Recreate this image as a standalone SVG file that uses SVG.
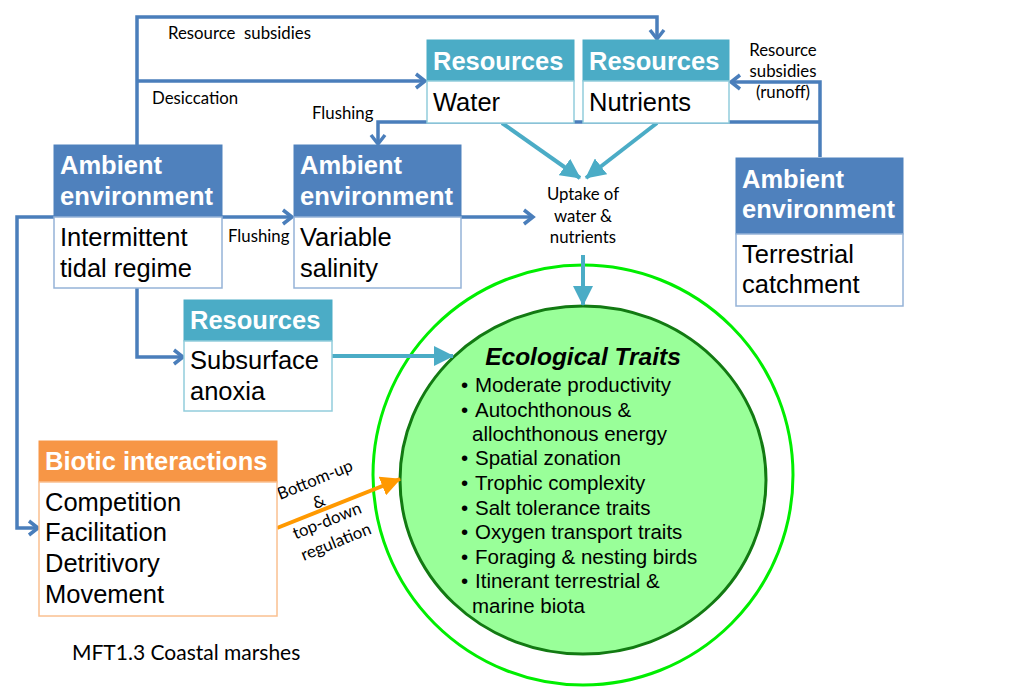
<svg xmlns="http://www.w3.org/2000/svg" width="1011" height="700" viewBox="0 0 1011 700">
  <style>
    .hdr { font-family: "Liberation Sans", Arial, sans-serif; font-weight: bold; font-size: 25.5px; fill: #ffffff; }
    .body { font-family: "Liberation Sans", Arial, sans-serif; font-size: 25.5px; fill: #000000; }
    .lbl { font-family: Lato, "Open Sans", sans-serif; font-size: 16.8px; fill: #000000; }
    .trait { font-family: "Liberation Sans", Arial, sans-serif; font-size: 20.5px; fill: #000000; }
    .amb-h { fill: #4F81BD; stroke: #4F81BD; stroke-width: 1; }
    .amb-b { fill: #ffffff; stroke: #95B3D7; stroke-width: 1.5; }
    .res-h { fill: #4BACC6; stroke: #4BACC6; stroke-width: 1; }
    .res-b { fill: #ffffff; stroke: #92CDDC; stroke-width: 1.5; }
    .bio-h { fill: #F79646; stroke: #F79646; stroke-width: 1; }
    .bio-b { fill: #ffffff; stroke: #FAC090; stroke-width: 1.5; }
    .blue { fill: none; stroke: #4A7EBB; stroke-width: 3.5; marker-end: url(#chev); }
    .cyan { fill: none; stroke: #4BACC6; stroke-width: 4; marker-end: url(#tri-cyan); }
    .orange { fill: none; stroke: #FF9900; stroke-width: 4; marker-end: url(#tri-orange); }
  </style>
  <defs>
    <marker id="chev" markerUnits="userSpaceOnUse" markerWidth="16" markerHeight="20" refX="12" refY="10" orient="auto">
      <path d="M3,3 L12,10 L3,17" fill="none" stroke="#4A7EBB" stroke-width="3.5"/>
    </marker>
    <marker id="tri-cyan" markerUnits="userSpaceOnUse" markerWidth="20" markerHeight="20" refX="19" refY="10" orient="auto">
      <path d="M0,0 L20,10 L0,20 Z" fill="#4BACC6"/>
    </marker>
    <marker id="tri-orange" markerUnits="userSpaceOnUse" markerWidth="20" markerHeight="20" refX="19" refY="10" orient="auto">
      <path d="M0,0 L20,10 L0,20 Z" fill="#FF9900"/>
    </marker>
  </defs>

  <rect width="1011" height="700" fill="#ffffff"/>

  <!-- Ecological traits core -->
  <g id="traits">
    <circle cx="583" cy="475" r="210" fill="none" stroke="#00EE00" stroke-width="3"/>
    <ellipse cx="583" cy="480" rx="183" ry="174" fill="#99FF99" stroke="#127A12" stroke-width="3"/>
    <text x="583" y="365" text-anchor="middle" font-family="Liberation Sans, Arial, sans-serif" font-weight="bold" font-style="italic" font-size="24.5" fill="#000">Ecological Traits</text>
    <g class="trait">
      <text x="461" y="392">•</text><text x="475" y="392">Moderate productivity</text>
      <text x="461" y="417">•</text><text x="475" y="417">Autochthonous &amp;</text>
      <text x="472" y="441">allochthonous energy</text>
      <text x="461" y="465">•</text><text x="475" y="465">Spatial zonation</text>
      <text x="461" y="490">•</text><text x="475" y="490">Trophic complexity</text>
      <text x="461" y="515">•</text><text x="475" y="515">Salt tolerance traits</text>
      <text x="461" y="539">•</text><text x="475" y="539">Oxygen transport traits</text>
      <text x="461" y="564">•</text><text x="475" y="564">Foraging &amp; nesting birds</text>
      <text x="461" y="588">•</text><text x="475" y="588">Itinerant terrestrial &amp;</text>
      <text x="472" y="613">marine biota</text>
    </g>
  </g>

  <!-- Connectors -->
  <g id="connectors">
    <path class="blue" d="M137,145 V17 H657 V39"/>
    <path class="blue" d="M137,81 H425"/>
    <path class="blue" d="M820,157 V82 H731"/>
    <path class="blue" d="M820,122 H378 V144"/>
    <path class="blue" d="M222,217 H292"/>
    <path class="blue" d="M54,217 H17 V528 H38"/>
    <path class="blue" d="M137,288 V357 H183"/>
    <path class="blue" d="M461,217 H533"/>
    <path class="cyan" d="M332,356 H453"/>
    <path class="cyan" d="M502,123 L580,178"/>
    <path class="cyan" d="M657,123 L586,178"/>
    <path class="cyan" d="M583,255 V305"/>
    <path class="orange" d="M277,528 L400,479"/>

    <text class="lbl" x="168" y="39" style="white-space:pre">Resource  subsidies</text>
    <text class="lbl" x="152" y="104">Desiccation</text>
    <text class="lbl" x="312" y="119">Flushing</text>
    <text class="lbl" x="228" y="242">Flushing</text>
    <g class="lbl" text-anchor="middle">
      <text x="783" y="56">Resource</text>
      <text x="783" y="77">subsidies</text>
      <text x="783" y="98">(runoff)</text>
      <text x="583" y="200">Uptake of</text>
      <text x="583" y="222">water &amp;</text>
      <text x="583" y="243">nutrients</text>
    </g>
    <g class="lbl" text-anchor="middle">
      <text transform="translate(317,485) rotate(-22)">Bottom-up</text>
      <text transform="translate(321,507) rotate(-22)">&amp;</text>
      <text transform="translate(329,526) rotate(-22)">top-down</text>
      <text transform="translate(338,547) rotate(-22)">regulation</text>
    </g>
  </g>

  <!-- Resources: water -->
  <g id="res-water">
    <rect class="res-h" x="427" y="40" width="147" height="41"/>
    <rect class="res-b" x="427" y="81" width="147" height="42"/>
    <text class="hdr" x="433" y="70">Resources</text>
    <text class="body" x="433" y="111">Water</text>
  </g>

  <!-- Resources: nutrients -->
  <g id="res-nutrients">
    <rect class="res-h" x="583" y="40" width="146" height="41"/>
    <rect class="res-b" x="583" y="81" width="146" height="42"/>
    <text class="hdr" x="589" y="70">Resources</text>
    <text class="body" x="589" y="111">Nutrients</text>
  </g>

  <!-- Ambient: tidal regime -->
  <g id="amb-tidal">
    <rect class="amb-h" x="54" y="145" width="168" height="72"/>
    <rect class="amb-b" x="54" y="217" width="168" height="71"/>
    <text class="hdr" x="60" y="174">Ambient</text>
    <text class="hdr" x="60" y="205">environment</text>
    <text class="body" x="60" y="246">Intermittent</text>
    <text class="body" x="60" y="277">tidal regime</text>
  </g>

  <!-- Ambient: salinity -->
  <g id="amb-salinity">
    <rect class="amb-h" x="294" y="145" width="167" height="72"/>
    <rect class="amb-b" x="294" y="217" width="167" height="71"/>
    <text class="hdr" x="300" y="174">Ambient</text>
    <text class="hdr" x="300" y="205">environment</text>
    <text class="body" x="300" y="246">Variable</text>
    <text class="body" x="300" y="277">salinity</text>
  </g>

  <!-- Ambient: terrestrial catchment -->
  <g id="amb-catchment">
    <rect class="amb-h" x="736" y="158" width="167" height="76"/>
    <rect class="amb-b" x="736" y="234" width="167" height="72"/>
    <text class="hdr" x="742" y="188">Ambient</text>
    <text class="hdr" x="742" y="218">environment</text>
    <text class="body" x="742" y="263">Terrestrial</text>
    <text class="body" x="742" y="293">catchment</text>
  </g>

  <!-- Resources: subsurface anoxia -->
  <g id="res-anoxia">
    <rect class="res-h" x="184" y="300" width="148" height="41"/>
    <rect class="res-b" x="184" y="341" width="148" height="70"/>
    <text class="hdr" x="190" y="329">Resources</text>
    <text class="body" x="190" y="369">Subsurface</text>
    <text class="body" x="190" y="400">anoxia</text>
  </g>

  <!-- Biotic interactions -->
  <g id="biotic">
    <rect class="bio-h" x="39" y="441" width="238" height="41"/>
    <rect class="bio-b" x="39" y="482" width="238" height="134"/>
    <text class="hdr" x="45" y="470">Biotic interactions</text>
    <text class="body" x="45" y="511">Competition</text>
    <text class="body" x="45" y="541">Facilitation</text>
    <text class="body" x="45" y="572">Detritivory</text>
    <text class="body" x="45" y="603">Movement</text>
  </g>

  <text id="caption" x="72" y="660" font-family="Lato, 'Open Sans', sans-serif" font-size="21" fill="#000">MFT1.3 Coastal marshes</text>
</svg>
